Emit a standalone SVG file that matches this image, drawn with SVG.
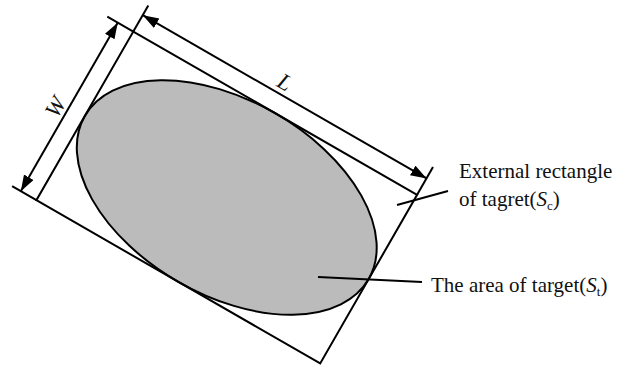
<svg xmlns="http://www.w3.org/2000/svg" width="630" height="365" viewBox="0 0 630 365">
<defs>
<style>
.ln{stroke:#000;stroke-width:2;fill:none}
.t{font-family:"Liberation Serif","Times New Roman",serif;font-size:21px;fill:#111}
.i{font-style:italic}
.dim{font-size:23px}
.sub{font-size:13px}
</style>
<marker id="ah" markerUnits="userSpaceOnUse" markerWidth="17" markerHeight="12" refX="16" refY="5.5" orient="auto-start-reverse">
<path d="M0,0 L16,5.5 L0,11 z" fill="#000"/>
</marker>
</defs>
<rect width="630" height="365" fill="#fff"/>
<g id="target">
<ellipse cx="226.75" cy="197.5" rx="163.7" ry="97.2" transform="rotate(29.9 226.75 197.5)" fill="#bbbbbb" stroke="#000" stroke-width="2"/>
</g>
<g id="rectangle">
<polygon class="ln" points="133.3,31.6 417.1,194.8 320.2,363.4 36.4,200.2"/>
</g>
<g id="connectors">
<line class="ln" x1="133.3" y1="31.6" x2="107.3" y2="16.7"/>
<line class="ln" x1="133.3" y1="31.6" x2="148.3" y2="5.6"/>
<line class="ln" x1="417.1" y1="194.8" x2="433" y2="167.1"/>
<line class="ln" x1="36.4" y1="200.2" x2="12.1" y2="186.2"/>
<line class="ln" x1="142.8" y1="15.2" x2="426.6" y2="178.4" marker-start="url(#ah)" marker-end="url(#ah)"/>
<line class="ln" x1="117.7" y1="22.7" x2="20.8" y2="191.2" marker-start="url(#ah)" marker-end="url(#ah)"/>
<line class="ln" x1="397" y1="205" x2="448" y2="191"/>
<line class="ln" x1="318" y1="277" x2="422" y2="282"/>
</g>
<g id="label-L">
<text class="t i dim" text-anchor="middle" transform="translate(285 82) rotate(29.9)" y="8">L</text>
</g>
<g id="label-W">
<text class="t i dim" text-anchor="middle" transform="translate(55 107) rotate(-60.1)" y="8">W</text>
</g>
<g id="label-rect">
<text class="t" x="459" y="178">External rectangle</text>
<text class="t" x="459" y="206">of tagret(<tspan class="i">S</tspan><tspan class="sub" dy="4">c</tspan><tspan dy="-4">)</tspan></text>
</g>
<g id="label-area">
<text class="t" x="431" y="292">The area of target(<tspan class="i">S</tspan><tspan class="sub" dy="4">t</tspan><tspan dy="-4">)</tspan></text>
</g>
</svg>
